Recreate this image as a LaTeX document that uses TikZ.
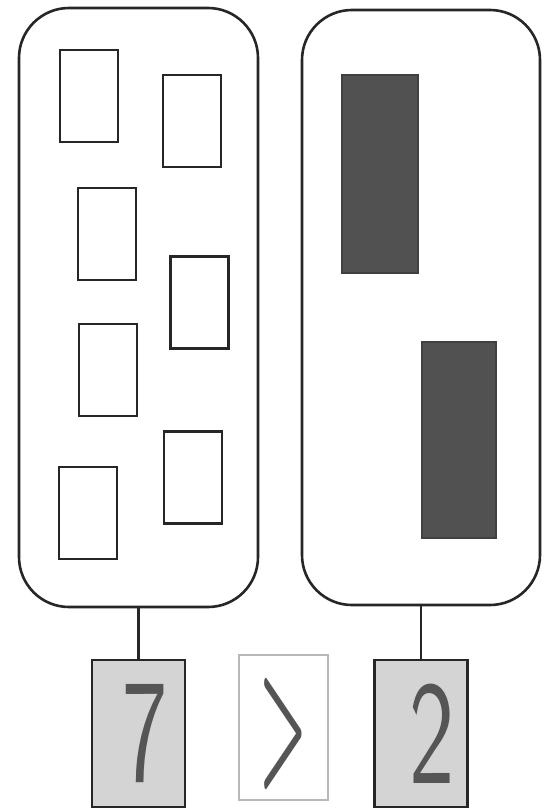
\documentclass[tikz,border=0pt]{standalone}
\usepackage{fontspec}
\definecolor{darkbar}{HTML}{515151}
\definecolor{boxgray}{HTML}{D4D4D4}
\definecolor{inkgray}{HTML}{555555}
\definecolor{lightline}{HTML}{B8B8B8}
\begin{document}
\begin{tikzpicture}[x=1pt,y=-1pt,
  panel/.style={draw=black!85,line width=2.6pt,rounded corners=50pt,inner sep=0pt,outer sep=0pt,fill=white},
  chip/.style={draw=black!85,line width=2.4pt,fill=white,inner sep=0pt,outer sep=0pt,minimum width=58pt,minimum height=92pt},
  bar/.style={draw=black!75,line width=1.8pt,fill=darkbar,inner sep=0pt,outer sep=0pt},
  numbox/.style={draw=black!85,line width=2.6pt,fill=boxgray,inner sep=0pt,outer sep=0pt,minimum width=93pt,minimum height=147pt},
  signbox/.style={draw=lightline,line width=2.4pt,fill=white,inner sep=0pt,outer sep=0pt,minimum width=89pt,minimum height=145pt},
  glyph/.style={text=inkgray,font=\sffamily\fontsize{148}{148}\selectfont,inner sep=0pt},
  link/.style={draw=black!85,line width=2.4pt}
]
\useasboundingbox (0,0) rectangle (549,811);
% panels
\node[panel,minimum width=239pt,minimum height=599pt] (L) at (138.5,307.5) {};
\node[panel,minimum width=238pt,minimum height=595pt] (R) at (421,307.5) {};
% white chips
\node[chip] (c1) at (89,96) {};
\node[chip] (c2) at (192,121) {};
\node[chip] (c3) at (107,234) {};
\node[chip] (c4) at (199.5,302.5) {};
\node[chip] (c5) at (108,370) {};
\node[chip] (c6) at (193,477.5) {};
\node[chip] (c7) at (88,513) {};
% dark bars
\node[bar,minimum width=76pt,minimum height=198pt] (b1) at (380,174) {};
\node[bar,minimum width=74pt,minimum height=196pt] (b2) at (459,440) {};
% number boxes
\node[numbox] (n7) at (138.5,733.5) {};
\node[signbox] (ns) at (283.5,727.5) {};
\node[numbox] (n2) at (421,733.5) {};
% connectors
\draw[link] (L.south) -- (n7.north);
\draw[link] (R.south) -- (n2.north);
% glyphs
\node[glyph,xscale=0.65] (t7) at (145,734) {7};
\node[glyph,font=\sffamily\bfseries\fontsize{148}{148}\selectfont,xscale=0.36,yscale=1.12] (ts) at (283,734) {>};
\node[glyph,xscale=0.65] (t2) at (432,734) {2};
\end{tikzpicture}
\end{document}
